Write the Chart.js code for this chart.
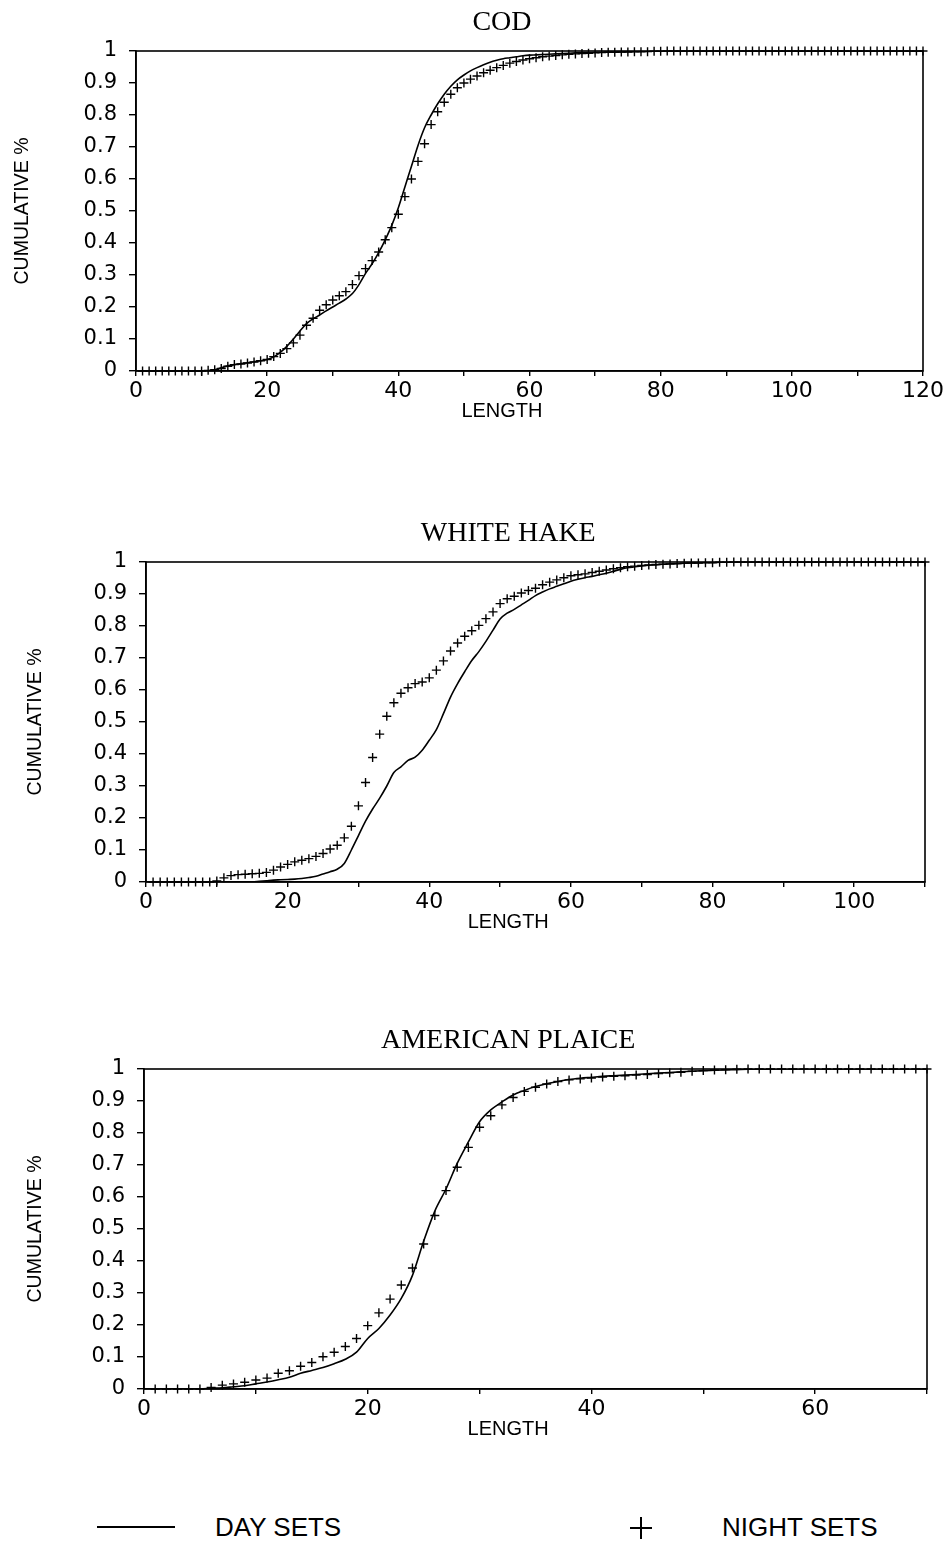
<!DOCTYPE html>
<html>
<head>
<meta charset="utf-8">
<script src="https://cdn.jsdelivr.net/npm/chart.js@4.4.1/dist/chart.umd.min.js"></script>
<style>
  html, body { margin: 0; padding: 0; background: #fff; }
  #page { position: relative; width: 952px; height: 1547px; overflow: hidden; }
  .panel { position: absolute; left: 0; }
  #legend { position: absolute; left: 0; top: 1508px; width: 952px; height: 40px;
            font-family: "Liberation Sans", Arial, sans-serif; font-size: 26px; color: #000; }
  #legend span { position: absolute; }
</style>
</head>
<body>
<div id="page">
  <canvas id="cod" class="panel" width="952" height="420" style="top:1px"></canvas>
  <canvas id="hake" class="panel" width="952" height="420" style="top:512px"></canvas>
  <canvas id="plaice" class="panel" width="952" height="420" style="top:1019px"></canvas>
  <div id="legend"></div>
</div>
<script>
var seriesNames = ['DAY SETS', 'NIGHT SETS'];

/* cumulative proportion by length (cm); day arrays start at 0 cm, night arrays at 1 cm */
var codDay = [
  0, 0, 0, 0, 0, 0, 0, 0, 0, 0,
  0, .001, .004, .010, .016, .020, .023, .026, .029, .032,
  .036, .044, .058, .077, .100, .125, .148, .163, .175, .188,
  .200, .212, .225, .242, .270, .305, .335, .370, .410, .455,
  .510, .575, .640, .705, .760, .800, .835, .865, .890, .910,
  .925, .938, .948, .957, .965, .971, .976, .979, .982, .985,
  .987, .988, .989, .990, .991, .992, .993, .994, .995, .995,
  .996, .996, .997, .997, .997, .998, .998, .998, .999, .999,
  .999, 1, 1, 1, 1, 1, 1, 1, 1, 1,
  1, 1, 1, 1, 1, 1, 1, 1, 1, 1,
  1, 1, 1, 1, 1, 1, 1, 1, 1, 1,
  1, 1, 1, 1, 1, 1, 1, 1, 1, 1,
  1
];
var codNight = [
  0, 0, 0, 0, 0, 0, 0, 0, 0, 0,
  .002, .004, .008, .015, .020, .022, .025, .028, .032, .036,
  .045, .055, .070, .088, .112, .143, .165, .190, .207, .222,
  .235, .248, .270, .298, .320, .345, .372, .410, .448, .490,
  .545, .600, .655, .710, .770, .810, .840, .865, .885, .900,
  .912, .922, .932, .940, .948, .955, .962, .967, .972, .976,
  .979, .982, .984, .986, .988, .990, .991, .992, .993, .994,
  .995, .996, .996, .997, .997, .998, .998, .998, .999, .999,
  1, 1, 1, 1, 1, 1, 1, 1, 1, 1,
  1, 1, 1, 1, 1, 1, 1, 1, 1, 1,
  1, 1, 1, 1, 1, 1, 1, 1, 1, 1,
  1, 1, 1, 1, 1, 1, 1, 1, 1, 1
];

var hakeDay = [
  0, 0, 0, 0, 0, 0, 0, 0, 0, 0,
  0, 0, 0, 0, 0, 0, .002, .004, .006, .007,
  .008, .009, .011, .014, .018, .025, .032, .040, .058, .100,
  .145, .190, .228, .262, .300, .342, .360, .380, .390, .412,
  .443, .476, .526, .578, .620, .657, .692, .720, .752, .787,
  .822, .840, .852, .866, .880, .895, .906, .916, .924, .932,
  .940, .946, .951, .955, .960, .965, .971, .977, .982, .985,
  .988, .990, .991, .993, .994, .995, .996, .997, .997, .998,
  .998, .999, 1, 1, 1, 1, 1, 1, 1, 1,
  1, 1, 1, 1, 1, 1, 1, 1, 1, 1,
  1, 1, 1, 1, 1, 1, 1, 1, 1, 1,
  1
];
var hakeNight = [
  0, 0, 0, 0, 0, 0, 0, 0, 0, .003,
  .013, .020, .023, .024, .026, .027, .030, .037, .047, .055,
  .063, .068, .073, .080, .089, .103, .115, .138, .174, .238,
  .311, .389, .462, .518, .560, .590, .607, .620, .625, .638,
  .662, .691, .722, .747, .768, .785, .802, .823, .844, .870,
  .885, .893, .903, .911, .918, .929, .937, .944, .951, .957,
  .960, .963, .967, .971, .975, .979, .982, .985, .987, .989,
  .991, .992, .993, .994, .995, .996, .997, .997, .998, .998,
  .999, .999, 1, 1, 1, 1, 1, 1, 1, 1,
  1, 1, 1, 1, 1, 1, 1, 1, 1, 1,
  1, 1, 1, 1, 1, 1, 1, 1, 1, 1
];

var plaiceDay = [
  0, 0, 0, 0, 0, 0, .002, .004, .007, .010,
  .016, .022, .029, .037, .049, .058, .067, .079, .093, .115,
  .158, .189, .231, .283, .355, .462, .556, .625, .705, .772,
  .835, .872, .897, .919, .933, .945, .954, .961, .967, .971,
  .974, .977, .979, .981, .983, .985, .987, .989, .991, .993,
  .995, .996, .997, .998, .999, .999, 1, 1, 1, 1,
  1, 1, 1, 1, 1, 1, 1, 1, 1, 1,
  1
];
var plaiceNight = [
  0, 0, 0, 0, 0, .005, .012, .016, .021, .028,
  .034, .049, .057, .071, .083, .101, .115, .133, .158, .198,
  .238, .281, .325, .378, .453, .542, .620, .693, .755, .818,
  .854, .888, .911, .930, .943, .953, .961, .966, .969, .972,
  .975, .977, .979, .981, .983, .986, .988, .990, .993, .995,
  .997, .998, .999, 1, 1, 1, 1, 1, 1, 1,
  1, 1, 1, 1, 1, 1, 1, 1, 1, 1
];

var yTicks = { min: 0, max: 1, step: 0.1 };
var xLabelEvery = 20;

var tickFont = '"DejaVu Sans", "Liberation Sans", sans-serif';
var labelFont = '"Liberation Sans", Arial, sans-serif';

Chart.defaults.color = '#000';
Chart.defaults.font.family = tickFont;

function toPoints(values, first) {
  return values.map(function (v, i) { return { x: first + i, y: v }; });
}

// panel heading and the LENGTH caption, set a bit left of the plot centre
var panelText = {
  id: 'panelText',
  afterDraw: function (chart, args, opts) {
    var ctx = chart.ctx, a = chart.chartArea;
    var cx = a.left + a.width * opts.center;
    ctx.save();
    ctx.fillStyle = '#000';
    ctx.textAlign = 'center';
    ctx.textBaseline = 'middle';
    ctx.font = '28px "Liberation Serif", serif';
    ctx.fillText(opts.title, cx, a.top - 28);
    ctx.font = '20px ' + labelFont;
    ctx.fillText(opts.xLabel, cx, a.bottom + 40);
    ctx.restore();
  }
};

// box round the plot area
var frame = {
  id: 'frame',
  beforeDatasetsDraw: function (chart) {
    var ctx = chart.ctx, a = chart.chartArea;
    ctx.save();
    ctx.strokeStyle = '#000';
    ctx.lineWidth = 1.6;
    ctx.strokeRect(a.left, a.top, a.width, a.height);
    ctx.restore();
  }
};

function makeChart(id, o) {
  return new Chart(document.getElementById(id), {
    type: 'scatter',
    data: {
      datasets: [{
        label: seriesNames[0],
        data: toPoints(o.day, 0),
        showLine: true,
        pointRadius: 0,
        borderColor: '#000',
        borderWidth: 1.6,
        cubicInterpolationMode: 'monotone'
      }, {
        label: seriesNames[1],
        data: toPoints(o.night, 1),
        showLine: false,
        pointStyle: 'cross',
        pointRadius: 4.5,
        borderColor: '#000',
        borderWidth: 1.4,
        clip: false
      }]
    },
    options: {
      responsive: false,
      animation: false,
      events: [],
      layout: { padding: { top: 50, left: 0, right: o.padRight, bottom: 0 } },
      plugins: {
        legend: { display: false },
        tooltip: { enabled: false },
        panelText: { title: o.title, xLabel: 'LENGTH', center: 0.465 }
      },
      scales: {
        x: {
          type: 'linear',
          min: 0,
          max: o.xMax,
          afterFit: function (s) { s.height = 50; },
          border: { display: true, color: '#000', width: 1.6 },
          grid: { drawOnChartArea: false, drawTicks: true, tickLength: 5, color: '#000', lineWidth: 1.4 },
          ticks: {
            stepSize: 10,
            padding: 2,
            maxRotation: 0,
            autoSkip: false,
            font: { size: 22 },
            callback: function (v) { return v % xLabelEvery === 0 ? v : ''; }
          }
        },
        y: {
          min: yTicks.min,
          max: yTicks.max,
          afterFit: function (s) { s.width = o.axisLeft; },
          border: { display: true, color: '#000', width: 1.6 },
          grid: { drawOnChartArea: false, drawTicks: true, tickLength: 7, color: '#000', lineWidth: 1.4 },
          ticks: {
            stepSize: yTicks.step,
            padding: 12,
            font: { size: 21 },
            callback: function (v) { return String(Math.round(v * 10) / 10); }
          },
          title: {
            display: true,
            text: 'CUMULATIVE %',
            font: { size: 19.5, family: labelFont },
            padding: { top: o.titlePad, bottom: 0 }
          }
        }
      }
    },
    plugins: [frame, panelText]
  });
}

makeChart('cod', { title: 'COD', day: codDay, night: codNight, xMax: 120, axisLeft: 136, padRight: 29, titlePad: 11 });
makeChart('hake', { title: 'WHITE HAKE', day: hakeDay, night: hakeNight, xMax: 110, axisLeft: 146, padRight: 27, titlePad: 24 });
makeChart('plaice', { title: 'AMERICAN PLAICE', day: plaiceDay, night: plaiceNight, xMax: 70, axisLeft: 144, padRight: 25, titlePad: 24 });

// legend along the foot of the page
var legend = document.getElementById('legend');
legend.innerHTML =
  '<span style="left:97px;top:18px;width:78px;height:2px;background:#000"></span>' +
  '<span style="left:215px;top:4px">' + seriesNames[0] + '</span>' +
  '<span style="left:630px;top:19px;width:22px;height:2px;background:#000"></span>' +
  '<span style="left:640px;top:9px;width:2px;height:22px;background:#000"></span>' +
  '<span style="left:722px;top:4px">' + seriesNames[1] + '</span>';
</script>
</body>
</html>
